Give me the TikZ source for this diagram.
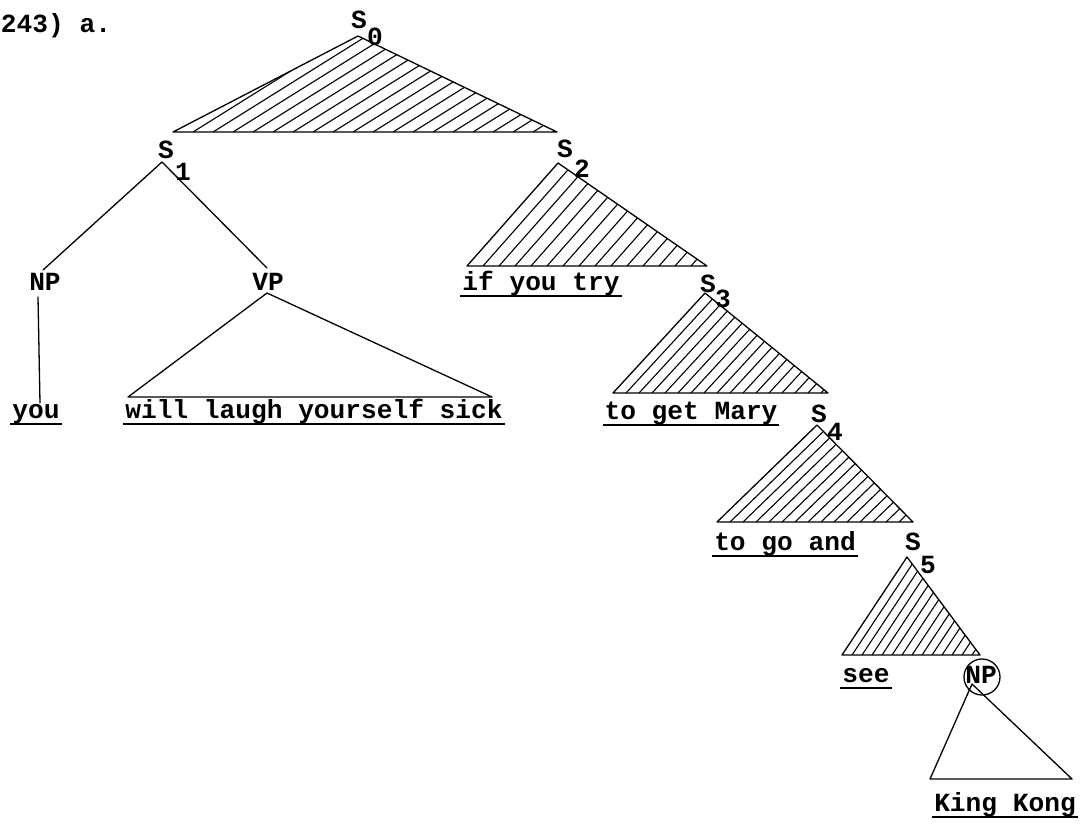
\documentclass[tikz,border=0pt]{standalone}
\usepackage{fontspec}
\setmainfont{Liberation Mono}
\usetikzlibrary{calc}
\begin{document}
\begin{tikzpicture}[x=1pt,y=-1pt,
  lbl/.style={inner sep=0pt, outer sep=0pt, anchor=base, font=\fontsize{26.2}{30}\selectfont\bfseries},
  edge/.style={line width=1.3pt, line cap=round, line join=round},
  hatch/.style={line width=1.1pt},
  uline/.style={line width=2.6pt}]
\useasboundingbox (0,0) rectangle (1084,823);
% labels
\node[lbl] (ex) at (56,32) {243) a.};
\node[lbl] (s0) at (359,28) {S};
\node[lbl] (s0i) at (375,45) {0};
\node[lbl] (s1) at (166,158) {S};
\node[lbl] (s1i) at (183,180) {1};
\node[lbl] (np1) at (45,290) {NP};
\node[lbl] (vp) at (268,290) {VP};
\node[lbl] (you) at (36,418) {you};
\node[lbl] (will) at (314,418) {will laugh yourself sick};
\node[lbl] (s2) at (565,157) {S};
\node[lbl] (s2i) at (582,177) {2};
\node[lbl] (iyt) at (541,290) {if you try};
\node[lbl] (s3) at (708,292) {S};
\node[lbl] (s3i) at (723,307) {3};
\node[lbl] (tgm) at (691,419) {to get Mary};
\node[lbl] (s4) at (819,422) {S};
\node[lbl] (s4i) at (835,440) {4};
\node[lbl] (tga) at (785,550) {to go and};
\node[lbl] (s5) at (913,550) {S};
\node[lbl] (s5i) at (928,573) {5};
\node[lbl] (see) at (866,682) {see};
\node[circle, draw, edge, minimum size=36pt, inner sep=0pt] (np2) at (982,677) {};
\node[lbl] (np2t) at (981,683) {NP};
\node[lbl] (kk) at (1005,811) {King Kong};
% underlines
\foreach \n in {you,will,iyt,tgm,tga,see,kk}
  \draw[uline] ($(\n.base west)+(-2,6)$) -- ($(\n.base east)+(2,6)$);
% coordinates
\coordinate (a0) at (358,36); \coordinate (l0) at (173,132); \coordinate (r0) at (557,132);
\coordinate (a1) at (162,162); \coordinate (n1) at (43,270); \coordinate (v1) at (267,268);
\coordinate (nb) at (38,297); \coordinate (ye) at (40,403);
\coordinate (av) at (267,293); \coordinate (lv) at (128,397); \coordinate (rv) at (492,397);
\coordinate (a2) at (558,163); \coordinate (l2) at (467,266); \coordinate (r2) at (707,266);
\coordinate (a3) at (705,293); \coordinate (l3) at (613,393); \coordinate (r3) at (828,393);
\coordinate (a4) at (817,425); \coordinate (l4) at (717,522); \coordinate (r4) at (913,522);
\coordinate (a5) at (907,557); \coordinate (l5) at (842,655); \coordinate (r5) at (980,655);
\coordinate (a6) at (972,684); \coordinate (l6) at (930,779); \coordinate (r6) at (1072,779);
% hatching
\begin{scope}
  \clip (a0) -- (l0) -- (r0) -- cycle;
  \foreach \k in {1,...,20} \draw[hatch] ($(l0)+(\k*20,0)$) -- ++(400,-250);
\end{scope}
\begin{scope}
  \clip (a2) -- (l2) -- (r2) -- cycle;
  \foreach \k in {1,...,16} \draw[hatch] ($(l2)+(\k*16,0)$) -- ++(182,-206);
\end{scope}
\begin{scope}
  \clip (a3) -- (l3) -- (r3) -- cycle;
  \foreach \k in {1,...,17} \draw[hatch] ($(l3)+(\k*13,0)$) -- ++(184,-200);
\end{scope}
\begin{scope}
  \clip (a4) -- (l4) -- (r4) -- cycle;
  \foreach \k in {1,...,16} \draw[hatch] ($(l4)+(\k*13,0)$) -- ++(200,-194);
\end{scope}
\begin{scope}
  \clip (a5) -- (l5) -- (r5) -- cycle;
  \foreach \k in {1,...,14} \draw[hatch] ($(l5)+(\k*10,0)$) -- ++(130,-196);
\end{scope}
% triangles
\draw[edge] (a0) -- (l0) -- (r0) -- cycle;
\draw[edge] (av) -- (lv) -- (rv) -- cycle;
\draw[edge] (a2) -- (l2) -- (r2) -- cycle;
\draw[edge] (a3) -- (l3) -- (r3) -- cycle;
\draw[edge] (a4) -- (l4) -- (r4) -- cycle;
\draw[edge] (a5) -- (l5) -- (r5) -- cycle;
\draw[edge] (a6) -- (l6) -- (r6) -- cycle;
% branches
\draw[edge] (a1) -- (n1);
\draw[edge] (a1) -- (v1);
\draw[edge] (nb) -- (ye);
\end{tikzpicture}
\end{document}
